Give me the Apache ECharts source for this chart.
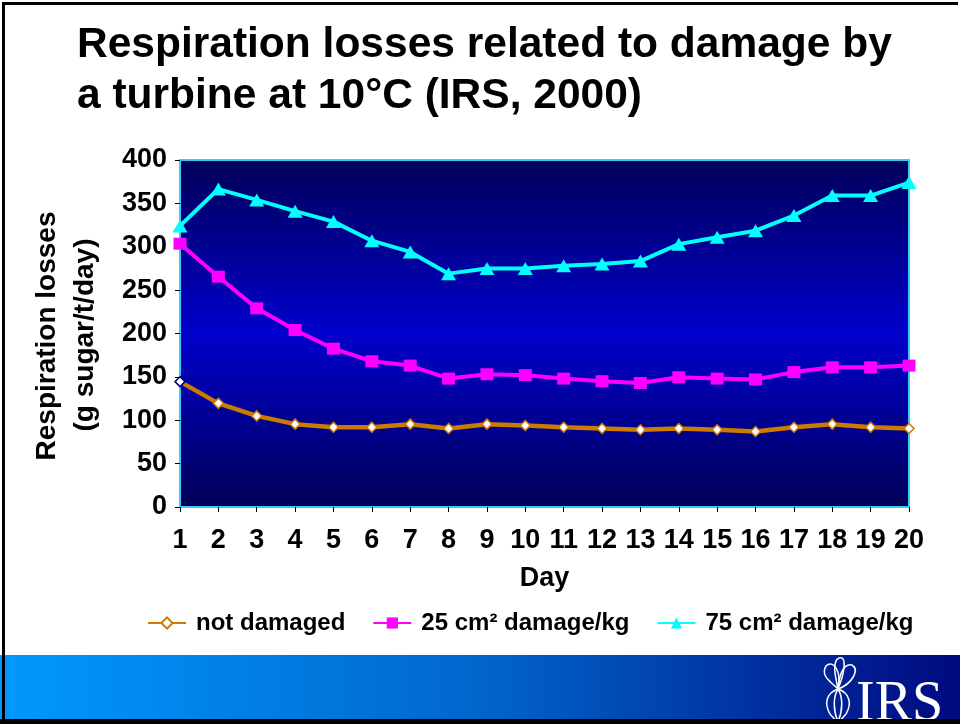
<!DOCTYPE html>
<html>
<head>
<meta charset="utf-8">
<script src="https://cdn.jsdelivr.net/npm/echarts@6/dist/echarts.min.js"></script>
<style>
html,body{margin:0;padding:0;background:#fff;}
#c{width:960px;height:724px;}
</style>
</head>
<body>
<div id="c"></div>
<script>
var days = ['1','2','3','4','5','6','7','8','9','10','11','12','13','14','15','16','17','18','19','20'];
var yTicks = [0, 400, 50];
var seriesNames = ['not damaged', '25 cm² damage/kg', '75 cm² damage/kg'];
var notDamaged = [144.5,119.5,105,95.5,92,92,95.5,90.5,95.5,94,92,90.5,89,90.5,89,87,92,95.5,92,90.5];
var damage25 = [303.5,265.5,229,204,182.5,168,163,148,153,152,148,145,143,149.5,148,147,155.5,161,161,163];
var damage75 = [324,366.5,354,341,329,307,294,269,275,275,278,280,283.5,303,311,318.5,336,359,359,374];
var titleLines = ['Respiration losses related to damage by', 'a turbine at 10°C (IRS, 2000)'];
var yTitle = ['Respiration losses', '(g sugar/t/day)'];
var xTitle = 'Day';

var FONT = '"Liberation Sans", Arial, Helvetica, sans-serif';
var chart = echarts.init(document.getElementById('c'), null, {renderer: 'canvas'});

var nd = notDamaged.map(function (v, i) {
  return i === 0 ? {value: v, itemStyle: {borderColor: '#000080'}} : v;
});

// logo outline (decorative drawing)
var logoCurves = [
  [838,689, 826,693, 824,704, 830,714],
  [846,714, 852,704, 850,693, 838,689],
  [838,689, 833,697, 833,710, 838,722],
  [838,689, 843,697, 843,710, 838,722],
  [838,689, 831,682, 820,676, 826,666],
  [826,666, 833,659, 842,671, 838,689],
  [838,689, 839,676, 843,663, 852,665],
  [852,665, 860,670, 852,684, 838,689],
  [838,689, 835,675, 832,661, 839,658],
  [839,658, 847,655, 845,672, 838,689]
];
var logoLines = [[830,714, 838,723], [838,723, 846,714]];
var logoEls = [];
logoCurves.forEach(function (c) {
  logoEls.push({type: 'bezierCurve', silent: true,
    shape: {x1: c[0], y1: c[1], cpx1: c[2], cpy1: c[3], cpx2: c[4], cpy2: c[5], x2: c[6], y2: c[7]},
    style: {stroke: '#ffffff', lineWidth: 1.5, fill: null}, z: 10});
});
logoLines.forEach(function (c) {
  logoEls.push({type: 'line', silent: true,
    shape: {x1: c[0], y1: c[1], x2: c[2], y2: c[3]},
    style: {stroke: '#ffffff', lineWidth: 1.5}, z: 10});
});

var graphics = [
  {type: 'text', x: 77, y: 24, style: {text: titleLines[0], font: 'bold 42.5px ' + FONT, fill: '#000', align: 'left', verticalAlign: 'top'}},
  {type: 'text', x: 77, y: 75, style: {text: titleLines[1], font: 'bold 42.5px ' + FONT, fill: '#000', align: 'left', verticalAlign: 'top'}},
  {type: 'text', x: 47, y: 336, rotation: Math.PI / 2,
    style: {text: yTitle[0], font: 'bold 28px ' + FONT, fill: '#000', align: 'center', verticalAlign: 'middle'}},
  {type: 'text', x: 85, y: 335, rotation: Math.PI / 2,
    style: {text: yTitle[1], font: 'bold 28px ' + FONT, fill: '#000', align: 'center', verticalAlign: 'middle'}},
  {type: 'rect', shape: {x: 0, y: 655, width: 960, height: 64}, silent: true, z: 5,
    style: {fill: new echarts.graphic.LinearGradient(0, 0, 1, 0, [
      {offset: 0, color: '#0099ff'},
      {offset: 0.5, color: '#0066cc'},
      {offset: 1, color: '#000a80'}
    ])}},
  {type: 'text', x: 856, y: 733, z: 10, style: {text: 'IRS', font: '56px "Liberation Serif", "Times New Roman", serif', fill: '#ffffff', align: 'left', verticalAlign: 'bottom'}},
  {type: 'rect', shape: {x: 2, y: 2, width: 3, height: 720}, z: 20, style: {fill: '#000'}},
  {type: 'rect', shape: {x: 2, y: 2, width: 956, height: 3}, z: 20, style: {fill: '#000'}},
  {type: 'rect', shape: {x: 0, y: 719, width: 960, height: 5}, z: 20, style: {fill: '#000'}}
].concat(logoEls);

var option = {
  animation: false,
  backgroundColor: '#ffffff',
  grid: {
    left: 180, top: 160, right: 51, bottom: 217,
    show: true,
    borderColor: '#33ccff', borderWidth: 2,
    backgroundColor: new echarts.graphic.LinearGradient(0, 0, 0, 1, [
      {offset: 0, color: '#000058'},
      {offset: 0.5, color: '#0000cc'},
      {offset: 1, color: '#000058'}
    ])
  },
  legend: {
    left: 147, top: 611, padding: 0,
    itemWidth: 38, itemHeight: 14, itemGap: 27,
    textStyle: {fontFamily: FONT, fontWeight: 'bold', fontSize: 24, color: '#000', padding: [0, 0, 0, 5]},
    data: seriesNames
  },
  xAxis: {
    type: 'category', data: days, boundaryGap: false,
    axisLine: {show: true, lineStyle: {color: '#33ccff', width: 2}},
    axisTick: {show: true, length: 5, lineStyle: {color: '#000', width: 1}},
    axisLabel: {fontFamily: FONT, fontWeight: 'bold', fontSize: 27, color: '#000', margin: 20, interval: 0},
    splitLine: {show: false},
    name: xTitle, nameLocation: 'middle', nameGap: 58,
    nameTextStyle: {fontFamily: FONT, fontWeight: 'bold', fontSize: 27, color: '#000'}
  },
  yAxis: {
    type: 'value', min: yTicks[0], max: yTicks[1], interval: yTicks[2],
    axisLine: {show: true, lineStyle: {color: '#33ccff', width: 2}},
    axisTick: {show: true, length: 5, lineStyle: {color: '#000', width: 1}},
    axisLabel: {fontFamily: FONT, fontWeight: 'bold', fontSize: 27, color: '#000', margin: 13},
    splitLine: {show: false}
  },
  series: [
    {
      name: seriesNames[0], type: 'line', data: nd,
      symbol: 'diamond', symbolSize: 10,
      lineStyle: {color: '#cc7a00', width: 4.5},
      itemStyle: {color: '#ffffff', borderColor: '#cc7a00', borderWidth: 1.5},
      z: 3
    },
    {
      name: seriesNames[1], type: 'line', data: damage25,
      symbol: 'rect', symbolSize: [13, 12],
      lineStyle: {color: '#ff00ff', width: 4},
      itemStyle: {color: '#ff00ff', borderWidth: 0},
      z: 4
    },
    {
      name: seriesNames[2], type: 'line', data: damage75,
      symbol: 'triangle', symbolSize: [15, 13],
      lineStyle: {color: '#00ffff', width: 4},
      itemStyle: {color: '#00ffff', borderWidth: 0},
      z: 5
    }
  ],
  graphic: graphics
};
chart.setOption(option);
</script>
</body>
</html>
